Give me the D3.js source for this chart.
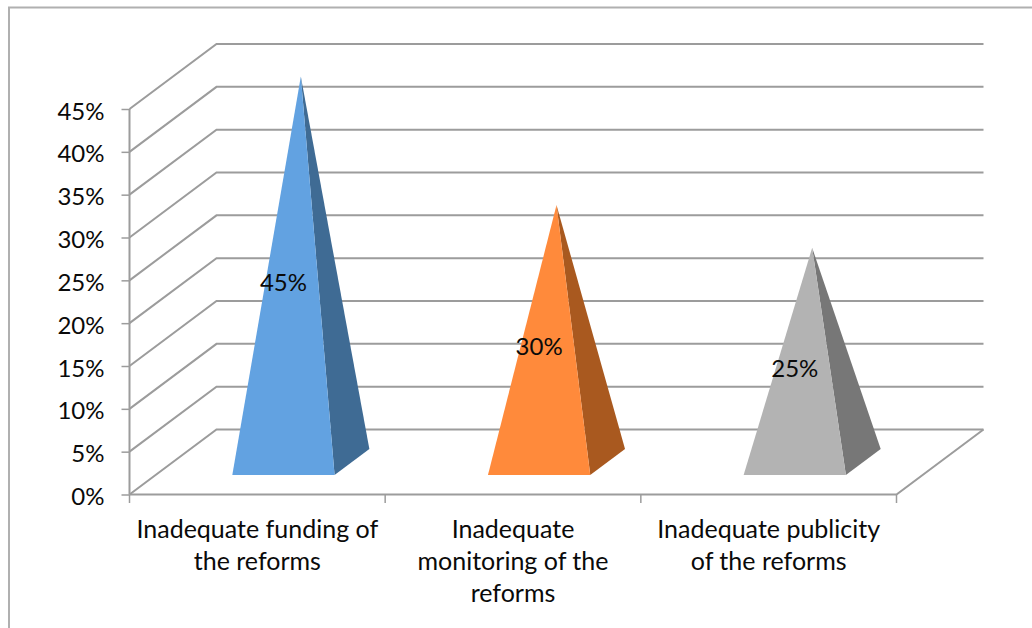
<!DOCTYPE html>
<html>
<head>
<meta charset="utf-8">
<script src="https://d3js.org/d3.v7.min.js"></script>
<style>
html, body {margin: 0; padding: 0; background: #fff;}
svg {display: block;}
text {font-family: Lato, "Open Sans", sans-serif; fill: #0a0a0a;}
</style>
</head>
<body>
<svg width="1032" height="628"></svg>
<script>
// chart data
const categories = ["funding", "monitoring", "publicity"];
const categoryLines = [
    ["Inadequate funding of", "the reforms"],
    ["Inadequate", "monitoring of the", "reforms"],
    ["Inadequate publicity", "of the reforms"]
];
const values = [45, 30, 25];
const yTicks = [0, 5, 10, 15, 20, 25, 30, 35, 40, 45];
const frontColors = ["#62a2e1", "#ff8a3b", "#b3b3b3"];
const sideColors = ["#3f6b94", "#a9591f", "#777777"];

const svg = d3.select("svg");
const gridColor = "#9c9c9c";

const x = d3.scaleBand().domain(categories).range([129.5, 896.5]);
const y = d3.scaleLinear().domain([0, 45]).range([494.5, 109]);

// oblique projection: depth 0 is the front of the floor, depth 1 the back wall
const depthX = 87, depthY = -65;
function project(px, value, depth) {
    return [px + depth * depthX, y(value) + depth * depthY];
}

// outer frame, only top and left are visible
svg.append("path")
    .attr("d", "M9,628V7.5H1032")
    .attr("fill", "none")
    .attr("stroke", "#b0b0b0")
    .attr("stroke-width", 2);

// walls
const line = d3.line();
const grid = svg.append("g")
    .attr("fill", "none")
    .attr("stroke", gridColor)
    .attr("stroke-width", 2);

grid.selectAll("path.wall").data(yTicks).enter().append("path")
    .attr("class", "wall")
    .attr("d", function(d) {
        return line([project(x.range()[0], d, 0), project(x.range()[0], d, 1), project(x.range()[1], d, 1)]);
    });

// floor front and right edges
grid.append("path")
    .attr("d", line([project(x.range()[0], 0, 0), project(x.range()[1], 0, 0), project(x.range()[1], 0, 1)]));

// value axis
const yAxis = svg.append("g")
    .attr("transform", "translate(" + x.range()[0] + ",0)")
    .call(d3.axisLeft(y).tickValues(yTicks).tickSize(8).tickPadding(17).tickFormat(function(d) {return d + "%";}));
yAxis.select(".domain").attr("stroke", gridColor).attr("stroke-width", 2).attr("d", "M0," + y(45) + "V" + y(0));
yAxis.selectAll(".tick line").attr("stroke", gridColor).attr("stroke-width", 1.5);
yAxis.selectAll("text").style("font-size", "24px").style("font-family", "Lato").attr("dy", "0.42em").attr("fill", "#0a0a0a");

// category separators below the floor
const separators = categories.map(function(d) {return x(d);}).concat([x.range()[1]]);
svg.append("g").selectAll("line").data(separators).enter().append("line")
    .attr("x1", function(d) {return d;})
    .attr("x2", function(d) {return d;})
    .attr("y1", y(0))
    .attr("y2", y(0) + 8.5)
    .attr("stroke", gridColor)
    .attr("stroke-width", 1.5);

// pyramids
const halfBase = x.bandwidth() * 0.2;
const frontDepth = 0.30, backDepth = 0.70;
const pyramids = svg.append("g").selectAll("g").data(values).enter().append("g");

pyramids.append("path")
    .attr("fill", function(d, i) {return sideColors[i];})
    .attr("d", function(d, i) {
        const cx = x(categories[i]) + x.bandwidth() / 2;
        return line([
            project(cx + halfBase, 0, frontDepth),
            project(cx + halfBase, 0, backDepth),
            project(cx, d, (frontDepth + backDepth) / 2)
        ]) + "Z";
    });

pyramids.append("path")
    .attr("fill", function(d, i) {return frontColors[i];})
    .attr("d", function(d, i) {
        const cx = x(categories[i]) + x.bandwidth() / 2;
        return line([
            project(cx - halfBase, 0, frontDepth),
            project(cx + halfBase, 0, frontDepth),
            project(cx, d, (frontDepth + backDepth) / 2)
        ]) + "Z";
    });

// value labels sit halfway up the front face
pyramids.append("text")
    .attr("text-anchor", "middle")
    .attr("dy", "0.36em")
    .style("font-size", "24px")
    .attr("x", function(d, i) {return project(x(categories[i]) + x.bandwidth() / 2, d / 2, frontDepth)[0];})
    .attr("y", function(d, i) {return project(0, d / 2, frontDepth)[1];})
    .text(function(d) {return d + "%";});

// category labels
const labels = svg.append("g").selectAll("text").data(categoryLines).enter().append("text")
    .attr("text-anchor", "middle")
    .style("font-size", "25px");

labels.selectAll("tspan").data(function(d, i) {
        return d.map(function(t) {return {t: t, i: i};});
    }).enter().append("tspan")
    .attr("x", function(d) {return x(categories[d.i]) + x.bandwidth() / 2;})
    .attr("y", function(d, j) {return 537.5 + j * 32;})
    .text(function(d) {return d.t;});
</script>
</body>
</html>
